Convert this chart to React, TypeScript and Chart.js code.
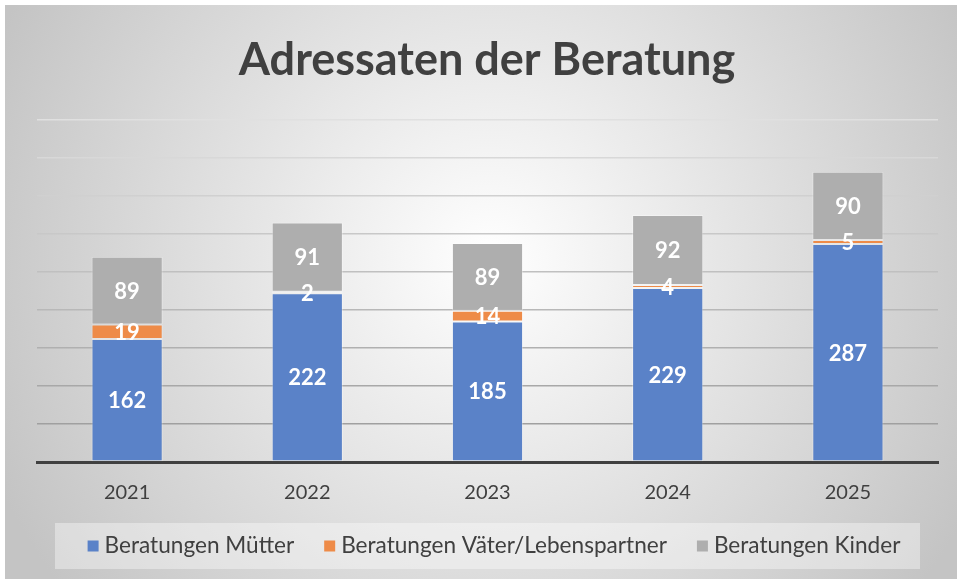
import React, { useEffect, useRef } from 'react';
import { Chart, registerables } from 'chart.js';

Chart.register(...registerables);

const categories = ['2021', '2022', '2023', '2024', '2025'];
const muetter = [162, 222, 185, 229, 287];
const vaeter = [19, 2, 14, 4, 5];
const kinder = [89, 91, 89, 92, 90];
const seriesLabels = ['Beratungen Mütter', 'Beratungen Väter/Lebenspartner', 'Beratungen Kinder'];
const seriesColors = ['#5A82C8', '#EE8B48', '#AEAEAE'];
const titleText = 'Adressaten der Beratung';
const yMax = 450;
const yStep = 50;

const W = 957;
const H = 579;
const FONT = 'Lato, "Open Sans", sans-serif';
const TEXT = '#404040';

const backgroundPlugin = {
  id: 'bg',
  beforeDraw(chart: any) {
    const ctx = chart.ctx;
    ctx.save();
    ctx.fillStyle = '#ffffff';
    ctx.fillRect(0, 0, W, H);
    const g = ctx.createRadialGradient(490, 260, 0, 490, 260, 540);
    g.addColorStop(0, '#ffffff');
    g.addColorStop(1, '#c4c4c4');
    ctx.fillStyle = g;
    ctx.fillRect(5, 5, W - 5, H - 5);
    // legend box
    ctx.fillStyle = 'rgba(255,255,255,0.38)';
    ctx.fillRect(55, 523, 865, 46);
    ctx.restore();
  },
};

const textPlugin = {
  id: 'texts',
  afterDraw(chart: any) {
    const ctx = chart.ctx;
    ctx.save();
    // title
    ctx.fillStyle = TEXT;
    ctx.font = `bold 45px ${FONT}`;
    ctx.textAlign = 'center';
    ctx.textBaseline = 'alphabetic';
    ctx.fillText(titleText, 487, 75);

    // legend
    ctx.font = `22.6px ${FONT}`;
    ctx.textBaseline = 'middle';
    ctx.textAlign = 'left';
    const box = 11;
    const gapBox = 6;
    const gapItem = 30;
    const ds = chart.data.datasets;
    const widths = ds.map((d: any) => box + gapBox + ctx.measureText(d.label).width);
    const total = widths.reduce((a: number, b: number) => a + b, 0) + gapItem * (ds.length - 1);
    let x = 494 - total / 2;
    const cy = 546;
    ds.forEach((d: any, i: number) => {
      ctx.fillStyle = d.backgroundColor;
      ctx.fillRect(x, cy - box / 2, box, box);
      ctx.fillStyle = TEXT;
      ctx.fillText(d.label, x + box + gapBox, cy);
      x += widths[i] + gapItem;
    });
    ctx.restore();
  },
};

const dataLabelPlugin = {
  id: 'dlabels',
  afterDatasetsDraw(chart: any) {
    const ctx = chart.ctx;
    ctx.save();
    ctx.fillStyle = '#ffffff';
    ctx.font = `bold 22px ${FONT}`;
    ctx.textAlign = 'center';
    ctx.textBaseline = 'middle';
    chart.data.datasets.forEach((d: any, di: number) => {
      const meta = chart.getDatasetMeta(di);
      meta.data.forEach((el: any, i: number) => {
        const p = el.getProps(['x', 'y', 'base'], true);
        ctx.fillText(String(d.data[i]), p.x, (p.y + p.base) / 2 + 1);
      });
    });
    ctx.restore();
  },
};

export default function App() {
  const ref = useRef<HTMLCanvasElement | null>(null);
  useEffect(() => {
    if (!ref.current) return;
    const mk = (label: string, data: number[], color: string) => ({
      label,
      data,
      backgroundColor: color,
      borderColor: 'rgba(255,255,255,0.35)',
      borderWidth: 1,
      borderSkipped: false,
      categoryPercentage: 1,
      barPercentage: 0.395,
    });
    const chart = new Chart(ref.current, {
      type: 'bar',
      data: {
        labels: categories,
        datasets: [
          mk(seriesLabels[0], muetter, seriesColors[0]),
          mk(seriesLabels[1], vaeter, seriesColors[1]),
          mk(seriesLabels[2], kinder, seriesColors[2]),
        ],
      },
      options: {
        responsive: false,
        animation: false,
        layout: { padding: { left: 37, right: 19, top: 120, bottom: 55 } },
        plugins: {
          legend: { display: false },
          title: { display: false },
          tooltip: { enabled: false },
        },
        scales: {
          x: {
            stacked: true,
            grid: { display: false, drawTicks: false },
            border: { display: true, color: '#404040', width: 3 },
            ticks: { color: TEXT, font: { family: FONT, size: 20 }, padding: 19 },
          },
          y: {
            stacked: true,
            min: 0,
            max: yMax,
            ticks: { display: false, stepSize: yStep },
            grid: {
              drawTicks: false,
              lineWidth: 1.5,
              color: (c: any) => {
                const v = c.tick ? c.tick.value : 0;
                const t = v / yMax;
                const k = Math.round(152 + (224 - 152) * t);
                return `rgb(${k},${k},${k})`;
              },
            },
            border: { display: false },
          },
        },
      },
      plugins: [backgroundPlugin, dataLabelPlugin, textPlugin],
    });
    return () => chart.destroy();
  }, []);
  return (
    <div style={{ position: 'absolute', left: 0, top: 0, width: W, height: H }}>
      <canvas ref={ref} width={W} height={H} style={{ display: 'block' }} />
    </div>
  );
}
